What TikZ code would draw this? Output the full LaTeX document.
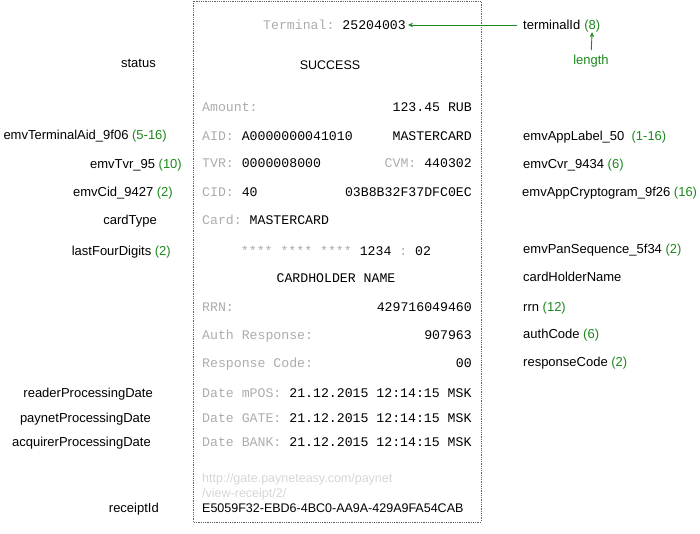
\documentclass[tikz,border=0pt]{standalone}
\usepackage{fontspec}
\setmainfont{Liberation Sans}
\newfontfamily\monof{Liberation Mono}
\usetikzlibrary{arrows.meta,positioning}
\frenchspacing
\definecolor{gr}{RGB}{30,135,30}
\definecolor{lab}{RGB}{172,172,172}
\definecolor{urlc}{RGB}{214,214,214}
\definecolor{bd}{RGB}{95,95,95}
\tikzset{
  lbl/.style={font=\frenchspacing\fontsize{13}{15}\selectfont, inner sep=0pt, text height=9pt, text depth=0pt},
  mono/.style={font=\frenchspacing\monof\fontsize{13.2}{15}\selectfont, inner sep=0pt, text height=9pt, text depth=0pt},
  rsans/.style={font=\frenchspacing\fontsize{12.5}{15}\selectfont, inner sep=0pt, text height=9pt, text depth=0pt},
  garrow/.style={draw=gr, line width=0.9pt, -{Stealth[length=5pt,width=4.5pt]}},
  receiptbox/.style={draw=bd, densely dotted, line width=0.8pt}
}
\begin{document}
\begin{tikzpicture}[x=1pt,y=-1pt]
\useasboundingbox (0,0) rectangle (700,534);
\draw[receiptbox] (193,1) rectangle (481,522);
% receipt content
\node[mono,anchor=west] (term) at (263,25) {\textcolor{lab}{Terminal:} 25204003};
\node[rsans] (succ) at (330,65) {SUCCESS};
\node[mono,anchor=west] (amtl) at (202,107) {\textcolor{lab}{Amount:}};
\node[mono,anchor=east] (amt) at (472,107) {123.45 RUB};
\node[mono,anchor=west] (aid) at (202,136) {\textcolor{lab}{AID:} A0000000041010};
\node[mono,anchor=east] (app) at (472,136) {MASTERCARD};
\node[mono,anchor=west] (tvr) at (202,163) {\textcolor{lab}{TVR:} 0000008000};
\node[mono,anchor=east] (cvm) at (472,163) {\textcolor{lab}{CVM:} 440302};
\node[mono,anchor=west] (cid) at (202,192) {\textcolor{lab}{CID:} 40};
\node[mono,anchor=east] (crypt) at (472,192) {03B8B32F37DFC0EC};
\node[mono,anchor=west] (card) at (202,220) {\textcolor{lab}{Card:} MASTERCARD};
\node[mono] (pan) at (336,251) {\textcolor{lab}{**** **** ****} 1234 \textcolor{lab}{:} 02};
\node[mono] (chn) at (336,278) {CARDHOLDER NAME};
\node[mono,anchor=west] (rrnl) at (202,307) {\textcolor{lab}{RRN:}};
\node[mono,anchor=east] (rrnv) at (472,307) {429716049460};
\node[mono,anchor=west] (authl) at (202,335) {\textcolor{lab}{Auth Response:}};
\node[mono,anchor=east] (authv) at (472,335) {907963};
\node[mono,anchor=west] (respl) at (202,363) {\textcolor{lab}{Response Code:}};
\node[mono,anchor=east] (respv) at (472,363) {00};
\node[mono,anchor=west] (dmpos) at (202,393) {\textcolor{lab}{Date mPOS:} 21.12.2015 12:14:15 MSK};
\node[mono,anchor=west] (dgate) at (202,418) {\textcolor{lab}{Date GATE:} 21.12.2015 12:14:15 MSK};
\node[mono,anchor=west] (dbank) at (202,442) {\textcolor{lab}{Date BANK:} 21.12.2015 12:14:15 MSK};
\node[rsans,anchor=west,text=urlc] (url1) at (202,478) {http://gate.payneteasy.com/paynet};
\node[rsans,anchor=west,text=urlc] (url2) at (202,493) {/view-receipt/2/};
\node[rsans,anchor=west] (uuid) at (202,508) {E5059F32-EBD6-4BC0-AA9A-429A9FA54CAB};
% left labels
\node[lbl,anchor=east] (status) at (156,63) {status};
\node[lbl,anchor=east] (tAid) at (167,135) {emvTerminalAid\_9f06 \textcolor{gr}{(5-16)}};
\node[lbl,anchor=east] (tTvr) at (182,164) {emvTvr\_95 \textcolor{gr}{(10)}};
\node[lbl,anchor=east] (tCid) at (173,192) {emvCid\_9427 \textcolor{gr}{(2)}};
\node[lbl,anchor=east] (tCard) at (157,220) {cardType};
\node[lbl,anchor=east] (tLast) at (171,251) {lastFourDigits \textcolor{gr}{(2)}};
\node[lbl,anchor=east] (tRead) at (153,393) {readerProcessingDate};
\node[lbl,anchor=east] (tPay) at (151,418) {paynetProcessingDate};
\node[lbl,anchor=east] (tAcq) at (151,442) {acquirerProcessingDate};
\node[lbl,anchor=east] (tRec) at (159,508) {receiptId};
% right labels
\node[lbl,anchor=west] (tid) at (523,25) {terminalId};
\node[lbl,anchor=west,text=gr] (eight) at ([xshift=3.6pt]tid.east) {(8)};
\node[lbl,text=gr] (len) at (591,60) {length};
\node[lbl,anchor=west] (tApp) at (523,136) {emvAppLabel\_50\ \ \textcolor{gr}{(1-16)}};
\node[lbl,anchor=west] (tCvr) at (523,164) {emvCvr\_9434 \textcolor{gr}{(6)}};
\node[lbl,anchor=west] (tCry) at (522,192) {emvAppCryptogram\_9f26 \textcolor{gr}{(16)}};
\node[lbl,anchor=west] (tPan) at (523,249) {emvPanSequence\_5f34 \textcolor{gr}{(2)}};
\node[lbl,anchor=west] (tChn) at (523,277) {cardHolderName};
\node[lbl,anchor=west] (tRrn) at (523,307) {rrn \textcolor{gr}{(12)}};
\node[lbl,anchor=west] (tAuth) at (523,334) {authCode \textcolor{gr}{(6)}};
\node[lbl,anchor=west] (tResp) at (523,362) {responseCode \textcolor{gr}{(2)}};
% connectors
\draw[garrow] ([xshift=-6pt]tid.west) -- ([xshift=2pt]term.east);
\draw[garrow, shorten <=5pt, shorten >=2.5pt] (len.north) -- (eight.south);
\end{tikzpicture}
\end{document}
